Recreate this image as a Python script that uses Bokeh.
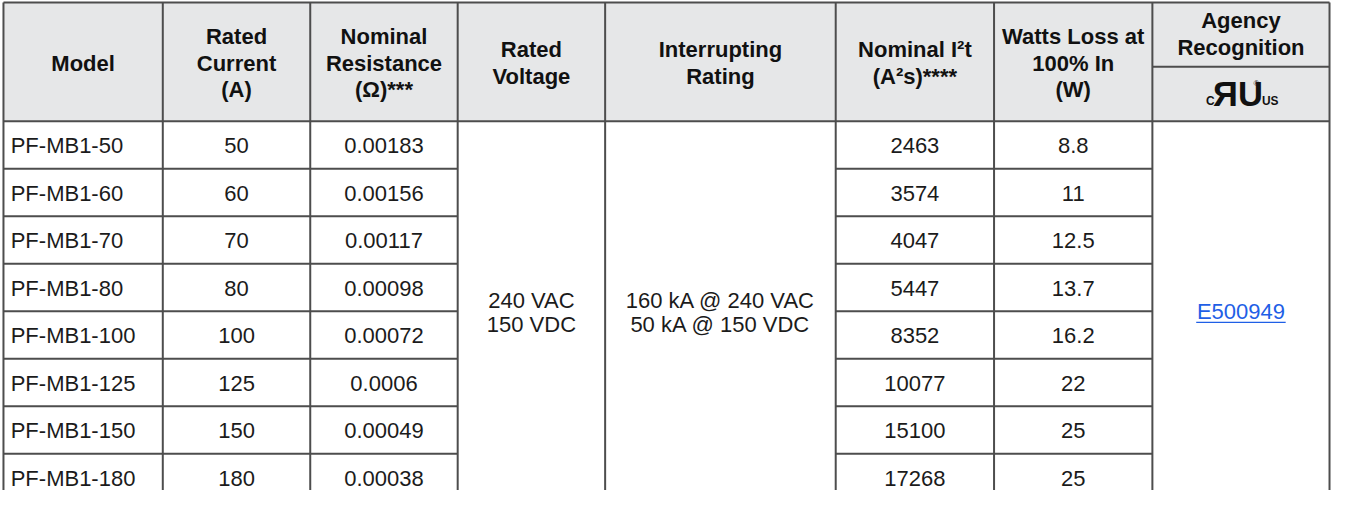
from bokeh.plotting import figure
from bokeh.models import Range1d, ColumnDataSource
from bokeh.core.properties import value
from bokeh.embed import file_html
from bokeh.resources import INLINE

# ---------------- data ----------------
models = ["PF-MB1-50", "PF-MB1-60", "PF-MB1-70", "PF-MB1-80",
          "PF-MB1-100", "PF-MB1-125", "PF-MB1-150", "PF-MB1-180"]
rated_current = ["50", "60", "70", "80", "100", "125", "150", "180"]
resistance = ["0.00183", "0.00156", "0.00117", "0.00098",
              "0.00072", "0.0006", "0.00049", "0.00038"]
i2t = ["2463", "3574", "4047", "5447", "8352", "10077", "15100", "17268"]
watts = ["8.8", "11", "12.5", "13.7", "16.2", "22", "25", "25"]
rated_voltage = ["240 VAC", "150 VDC"]
interrupting = ["160 kA @ 240 VAC", "50 kA @ 150 VDC"]
agency_file = "E500949"

headers = [
    ["Model"],
    ["Rated", "Current", "(A)"],
    ["Nominal", "Resistance", "(\u03a9)***"],
    ["Rated", "Voltage"],
    ["Interrupting", "Rating"],
    ["Nominal I\u00b2t", "(A\u00b2s)****"],
    ["Watts Loss at", "100% In", "(W)"],
]
agency_header = ["Agency", "Recognition"]

# ---------------- layout (reference pixel units) ----------------
col_edges = [5, 166, 315, 464, 613, 846, 1006, 1166, 1345]
top_y, head_bot, agency_mid = 4, 124, 69
row_h = 48
n_rows = len(models)
bottom_y = head_bot + row_h * n_rows

W, H = 1331, 490
S = W / 1345.0
FS = 22.2 * S
fs = f"{FS:.1f}px"
FONT = value("Liberation Sans")
TXT = "#1b1b1b"
LINE = "#4d4d4d"
BASE = "middle"

p = figure(width=W, height=H, output_backend="svg", toolbar_location=None,
           x_range=Range1d(2, 2 + W / S), y_range=Range1d(2 + H / S, 2),
           min_border=0, min_border_left=0, min_border_right=0,
           min_border_top=0, min_border_bottom=0)
p.axis.visible = False
p.grid.visible = False
p.outline_line_color = None
p.background_fill_color = "white"
p.border_fill_color = "white"

# header background
p.quad(left=[col_edges[0]], right=[col_edges[-1]], top=[top_y], bottom=[head_bot],
       fill_color="#e6e7e8", line_color=None)

# grid lines
x0s, x1s, y0s, y1s = [], [], [], []
for (a, b, y) in [(col_edges[0], col_edges[-1], top_y),
                  (col_edges[0], col_edges[-1], head_bot),
                  (col_edges[7], col_edges[8], agency_mid),
                  (col_edges[0], col_edges[-1], bottom_y)]:
    x0s.append(a); x1s.append(b); y0s.append(y); y1s.append(y)
for k in range(1, n_rows):
    y = head_bot + row_h * k
    for (a, b) in [(col_edges[0], col_edges[3]), (col_edges[5], col_edges[7])]:
        x0s.append(a); x1s.append(b); y0s.append(y); y1s.append(y)
for x in col_edges:
    x0s.append(x); x1s.append(x); y0s.append(top_y); y1s.append(bottom_y)
p.segment(x0=x0s, y0=y0s, x1=x1s, y1=y1s, line_color=LINE, line_width=2)

# header texts (y = centre of capitals)
hx, hy, ht = [], [], []
hc = (top_y + head_bot) / 2 + 1.2
for i, lines in enumerate(headers):
    cx = (col_edges[i] + col_edges[i + 1]) / 2
    n = len(lines)
    for j, t in enumerate(lines):
        hx.append(cx); hy.append(hc + (j - (n - 1) / 2) * 26.7); ht.append(t)
ac = (top_y + agency_mid) / 2 - 0.7
for j, t in enumerate(agency_header):
    hx.append((col_edges[7] + col_edges[8]) / 2)
    hy.append(ac + (j - 0.5) * 26.5); ht.append(t)
p.text(x="x", y="y", text="t", source=ColumnDataSource(dict(x=hx, y=hy, t=ht)),
       text_font=FONT, text_font_style="bold", text_font_size=fs,
       text_color="#111111", text_align="center", text_baseline=BASE)

# UL logo (cRUus)
lx = (col_edges[7] + col_edges[8]) / 2
ly = 96
p.text(x=[lx - 3], y=[ly], text=["\u042fU"], text_font=FONT, text_font_style="bold",
       text_font_size=f"{35 * S:.1f}px", text_color="#111111",
       text_align="center", text_baseline=BASE)
p.text(x=[lx - 31], y=[103.5], text=["C"], text_font=FONT, text_font_style="bold",
       text_font_size=f"{12 * S:.1f}px", text_color="#111111",
       text_align="center", text_baseline=BASE)
p.text(x=[lx + 29.5], y=[103.5], text=["US"], text_font=FONT, text_font_style="bold",
       text_font_size=f"{12 * S:.1f}px", text_color="#111111",
       text_align="center", text_baseline=BASE)
p.text(x=[lx + 15.5], y=[86], text=["\u00ae"], text_font=FONT,
       text_font_size=f"{8 * S:.1f}px", text_color="#111111",
       text_align="center", text_baseline=BASE)

# body texts
bx, by, bt = [], [], []
cx = {i: (col_edges[i] + col_edges[i + 1]) / 2 for i in range(8)}
for r in range(n_rows):
    yb = head_bot + row_h * r + row_h / 2 + 0.8
    for ci, arr in [(1, rated_current), (2, resistance), (5, i2t), (6, watts)]:
        bx.append(cx[ci]); by.append(yb); bt.append(arr[r])
merged_c = (head_bot + bottom_y) / 2
for j, t in enumerate(rated_voltage):
    bx.append(cx[3]); by.append(merged_c + 1.3 + (j - 0.5) * 24); bt.append(t)
for j, t in enumerate(interrupting):
    bx.append(cx[4]); by.append(merged_c + 1.3 + (j - 0.5) * 24); bt.append(t)
p.text(x="x", y="y", text="t", source=ColumnDataSource(dict(x=bx, y=by, t=bt)),
       text_font=FONT, text_font_size=fs, text_color=TXT,
       text_align="center", text_baseline=BASE)

mx = [col_edges[0] + 7.3] * n_rows
my = [head_bot + row_h * r + row_h / 2 + 0.8 for r in range(n_rows)]
p.text(x="x", y="y", text="t", source=ColumnDataSource(dict(x=mx, y=my, t=models)),
       text_font=FONT, text_font_size=fs, text_color=TXT,
       text_align="left", text_baseline=BASE)

# agency link
LINK = "#1f5fe6"
p.text(x=[cx[7]], y=[merged_c + 0.5], text=[agency_file], text_font=FONT,
       text_font_size=fs, text_color=LINK, text_align="center",
       text_baseline=BASE)
half = 0.5 * 4.0 * 22.6
p.segment(x0=[cx[7] - half], x1=[cx[7] + half], y0=[merged_c + 11.3],
          y1=[merged_c + 11.3], line_color=LINK, line_width=1.2)

open("out.html", "w").write(file_html(p, INLINE))
